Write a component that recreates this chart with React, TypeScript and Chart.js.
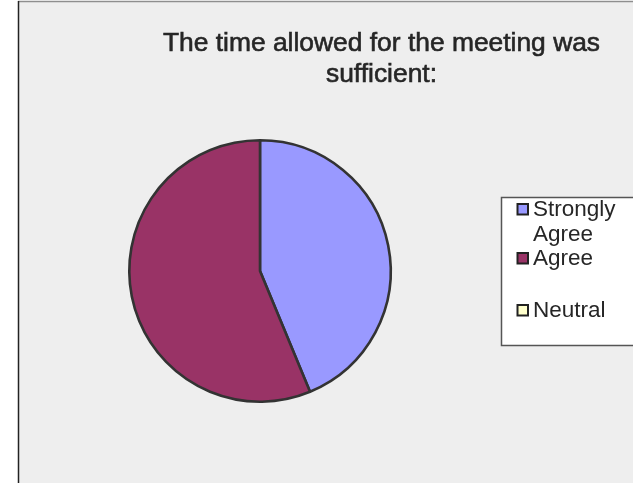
import React, { useEffect, useRef } from "react";
import { Chart, registerables } from "chart.js";

Chart.register(...registerables);

const categories = ["Strongly Agree", "Agree", "Neutral"];
const responses = [7, 9, 0];
const sliceColors = ["#9999FF", "#993366", "#FFFFCC"];
const titleLines = ["The time allowed for the meeting was", "sufficient:"];

const FONT = "'Liberation Sans', Arial, sans-serif";

const backgroundPlugin = {
  id: "excelBackground",
  beforeDraw(chart: any) {
    const { ctx, width, height } = chart;
    ctx.save();
    ctx.fillStyle = "#ffffff";
    ctx.fillRect(0, 0, width, height);
    ctx.fillStyle = "#eeeeee";
    ctx.fillRect(18, 1, width - 18, height - 1);
    ctx.strokeStyle = "#8e8e8e";
    ctx.lineWidth = 1.5;
    ctx.beginPath();
    ctx.moveTo(18, 1.5);
    ctx.lineTo(width, 1.5);
    ctx.stroke();
    ctx.strokeStyle = "#222222";
    ctx.lineWidth = 1.5;
    ctx.beginPath();
    ctx.moveTo(18.5, 1);
    ctx.lineTo(18.5, height);
    ctx.stroke();
    ctx.restore();
  },
};

function wrap(ctx: CanvasRenderingContext2D, text: string, maxW: number): string[] {
  const words = text.split(" ");
  const lines: string[] = [];
  let cur = "";
  for (const w of words) {
    const test = cur ? cur + " " + w : w;
    if (ctx.measureText(test).width > maxW && cur) {
      lines.push(cur);
      cur = w;
    } else {
      cur = test;
    }
  }
  if (cur) lines.push(cur);
  return lines;
}

const overlayPlugin = {
  id: "excelOverlay",
  afterDraw(chart: any) {
    const { ctx, width } = chart;
    ctx.save();
    // title
    ctx.fillStyle = "#262626";
    ctx.strokeStyle = "#262626";
    ctx.lineWidth = 0.6;
    ctx.font = `26.4px ${FONT}`;
    ctx.textAlign = "center";
    ctx.textBaseline = "alphabetic";
    titleLines.forEach((t, i) => {
      ctx.fillText(t, 381.5, 51 + i * 31);
      ctx.strokeText(t, 381.5, 51 + i * 31);
    });

    // legend box
    const bx = 501.5, by = 197.5, bb = 345.5;
    ctx.fillStyle = "#ffffff";
    ctx.fillRect(bx, by, width - bx, bb - by);
    ctx.strokeStyle = "#555555";
    ctx.lineWidth = 1.5;
    ctx.beginPath();
    ctx.moveTo(width, by);
    ctx.lineTo(bx, by);
    ctx.lineTo(bx, bb);
    ctx.lineTo(width, bb);
    ctx.stroke();

    ctx.font = `22.5px ${FONT}`;
    ctx.textAlign = "left";
    const labels: string[] = chart.data.labels;
    const colors: string[] = chart.data.datasets[0].backgroundColor;
    const entryBaselines = [216, 265, 317];
    labels.forEach((lab, i) => {
      const base = entryBaselines[i];
      ctx.fillStyle = colors[i];
      ctx.fillRect(517.5, base - 12, 10.5, 10.5);
      ctx.strokeStyle = "#222222";
      ctx.lineWidth = 2;
      ctx.strokeRect(517.5, base - 12, 10.5, 10.5);
      ctx.fillStyle = "#262626";
      const lines = wrap(ctx, lab, 92);
      lines.forEach((ln, j) => ctx.fillText(ln, 533, base + j * 25));
    });
    ctx.restore();
  },
};

export default function App() {
  const ref = useRef<HTMLCanvasElement | null>(null);
  useEffect(() => {
    document.body.style.margin = "0";
    if (!ref.current) return;
    const chart = new Chart(ref.current, {
      type: "pie",
      data: {
        labels: categories,
        datasets: [
          {
            data: responses,
            backgroundColor: sliceColors,
            borderColor: "#333333",
            borderWidth: 2.6,
          },
        ],
      },
      options: {
        responsive: false,
        animation: false,
        devicePixelRatio: 1,
        layout: { padding: { left: 128, right: 241, top: 139, bottom: 80 } },
        plugins: {
          legend: { display: false },
          title: { display: false },
          tooltip: { enabled: false },
        },
      },
      plugins: [backgroundPlugin, overlayPlugin],
    });
    return () => chart.destroy();
  }, []);
  return (
    <div style={{ width: 633, height: 483 }}>
      <canvas ref={ref} width={633} height={483} style={{ display: "block" }} />
    </div>
  );
}
